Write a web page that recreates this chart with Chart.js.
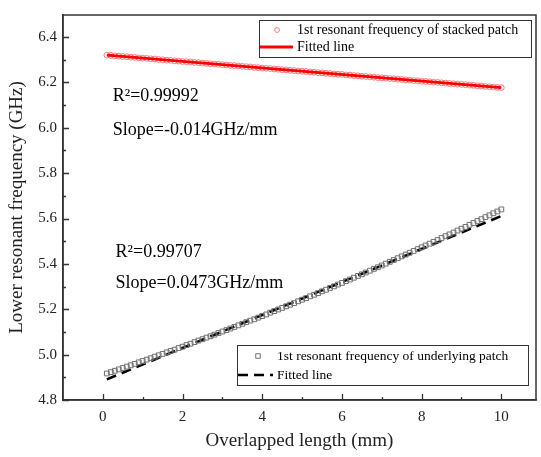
<!DOCTYPE html>
<html lang="en">
<head>
<meta charset="UTF-8">
<title>Lower resonant frequency vs overlapped length</title>
<script src="https://cdn.jsdelivr.net/npm/chart.js"></script>
<style>
    body {
        margin: 0;
        background: #fff;
    }
    #wrap {
        width: 541px;
        height: 457px;
    }
</style>
</head>
<body>
<div id="wrap"><canvas id="freqChart" width="541" height="457"></canvas></div>
<script>
// overlapped length (mm), shared by both measured series
const overlapLength = [
    0.1, 0.2, 0.3, 0.4, 0.5, 0.6, 0.7, 0.8, 0.9, 1.0,
    1.1, 1.2, 1.3, 1.4, 1.5, 1.6, 1.7, 1.8, 1.9, 2.0,
    2.1, 2.2, 2.3, 2.4, 2.5, 2.6, 2.7, 2.8, 2.9, 3.0,
    3.1, 3.2, 3.3, 3.4, 3.5, 3.6, 3.7, 3.8, 3.9, 4.0,
    4.1, 4.2, 4.3, 4.4, 4.5, 4.6, 4.7, 4.8, 4.9, 5.0,
    5.1, 5.2, 5.3, 5.4, 5.5, 5.6, 5.7, 5.8, 5.9, 6.0,
    6.1, 6.2, 6.3, 6.4, 6.5, 6.6, 6.7, 6.8, 6.9, 7.0,
    7.1, 7.2, 7.3, 7.4, 7.5, 7.6, 7.7, 7.8, 7.9, 8.0,
    8.1, 8.2, 8.3, 8.4, 8.5, 8.6, 8.7, 8.8, 8.9, 9.0,
    9.1, 9.2, 9.3, 9.4, 9.5, 9.6, 9.7, 9.8, 9.9, 10.0
];

// 1st resonant frequency of stacked patch (GHz)
const stackedFreq = [
    6.320, 6.319, 6.317, 6.316, 6.314, 6.313, 6.311, 6.310, 6.308, 6.307,
    6.306, 6.304, 6.303, 6.301, 6.300, 6.298, 6.297, 6.295, 6.294, 6.292,
    6.291, 6.290, 6.288, 6.287, 6.285, 6.284, 6.282, 6.281, 6.280, 6.278,
    6.277, 6.275, 6.274, 6.272, 6.271, 6.269, 6.268, 6.266, 6.265, 6.263,
    6.262, 6.261, 6.259, 6.258, 6.256, 6.255, 6.253, 6.252, 6.250, 6.249,
    6.248, 6.246, 6.245, 6.243, 6.242, 6.240, 6.239, 6.237, 6.236, 6.235,
    6.233, 6.232, 6.230, 6.229, 6.227, 6.226, 6.224, 6.223, 6.221, 6.220,
    6.219, 6.217, 6.216, 6.214, 6.213, 6.211, 6.210, 6.208, 6.207, 6.205,
    6.204, 6.203, 6.201, 6.200, 6.198, 6.197, 6.195, 6.194, 6.192, 6.191,
    6.190, 6.188, 6.187, 6.185, 6.184, 6.182, 6.181, 6.179, 6.178, 6.177
];

// 1st resonant frequency of underlying patch (GHz)
const underlyingFreq = [
    4.917, 4.923, 4.929, 4.935, 4.941, 4.947, 4.953, 4.959, 4.966, 4.972,
    4.978, 4.984, 4.991, 4.997, 5.003, 5.010, 5.016, 5.022, 5.029, 5.035,
    5.042, 5.048, 5.055, 5.062, 5.068, 5.075, 5.081, 5.088, 5.095, 5.102,
    5.108, 5.115, 5.122, 5.129, 5.136, 5.143, 5.150, 5.156, 5.163, 5.170,
    5.177, 5.185, 5.192, 5.199, 5.206, 5.213, 5.220, 5.227, 5.235, 5.242,
    5.249, 5.257, 5.264, 5.271, 5.279, 5.286, 5.294, 5.301, 5.309, 5.316,
    5.324, 5.331, 5.339, 5.347, 5.354, 5.362, 5.370, 5.378, 5.385, 5.393,
    5.401, 5.409, 5.417, 5.425, 5.433, 5.441, 5.449, 5.457, 5.465, 5.473,
    5.481, 5.489, 5.497, 5.505, 5.514, 5.522, 5.530, 5.538, 5.547, 5.555,
    5.563, 5.572, 5.580, 5.589, 5.597, 5.606, 5.614, 5.623, 5.631, 5.640
];

// fitted line end points
const stackedFitX = [0.1, 10.0];
const stackedFitY = [6.320, 6.177];
const underlyingFitX = [0.1, 10.0];
const underlyingFitY = [4.891, 5.611];

const xTicks = [0, 2, 4, 6, 8, 10];
const xMinorTicks = [1, 3, 5, 7, 9];
const yTicks = [4.8, 5.0, 5.2, 5.4, 5.6, 5.8, 6.0, 6.2, 6.4];
const yMinorTicks = [4.9, 5.1, 5.3, 5.5, 5.7, 5.9, 6.1, 6.3];

// fit notes, anchored in data units
const notes = [
    { x: 0.25, y: 6.119, text: 'R\u00b2=0.99992' },
    { x: 0.25, y: 5.969, text: 'Slope=-0.014GHz/mm' },
    { x: 0.32, y: 5.429, text: 'R\u00b2=0.99707' },
    { x: 0.32, y: 5.292, text: 'Slope=0.0473GHz/mm' }
];

const serif = '"Liberation Serif", "Times New Roman", serif';
const axisColor = '#333';

function pairs(xs, ys) {
    return xs.map((x, i) => ({ x: x, y: ys[i] }));
}

// box frame + inward tick marks (origin style)
const frameTicks = {
    id: 'frameTicks',
    afterDraw(chart) {
        const { ctx, chartArea: a, scales } = chart;
        const x = scales.x, y = scales.y;
        ctx.save();
        ctx.strokeStyle = axisColor;
        ctx.lineWidth = 1.5;
        ctx.strokeRect(a.left, a.top, a.right - a.left, a.bottom - a.top);

        ctx.lineWidth = 1.3;
        ctx.beginPath();
        xTicks.forEach(v => {
            const px = Math.round(x.getPixelForValue(v)) + 0.5;
            ctx.moveTo(px, a.bottom); ctx.lineTo(px, a.bottom - 6);
        });
        xMinorTicks.forEach(v => {
            const px = Math.round(x.getPixelForValue(v)) + 0.5;
            ctx.moveTo(px, a.bottom); ctx.lineTo(px, a.bottom - 3);
        });
        yTicks.forEach(v => {
            const py = Math.round(y.getPixelForValue(v)) + 0.5;
            ctx.moveTo(a.left, py); ctx.lineTo(a.left + 6, py);
        });
        yMinorTicks.forEach(v => {
            const py = Math.round(y.getPixelForValue(v)) + 0.5;
            ctx.moveTo(a.left, py); ctx.lineTo(a.left + 3, py);
        });
        ctx.stroke();
        ctx.restore();
    }
};

const fitNotes = {
    id: 'fitNotes',
    afterDatasetsDraw(chart) {
        const { ctx, scales } = chart;
        ctx.save();
        ctx.fillStyle = '#000';
        ctx.font = '18px ' + serif;
        ctx.textBaseline = 'alphabetic';
        notes.forEach(n => {
            ctx.fillText(n.text, scales.x.getPixelForValue(n.x), scales.y.getPixelForValue(n.y));
        });
        ctx.restore();
    }
};

// two separate boxed legends like the original figure
function drawMarker(ctx, ds, cx, cy, r) {
    ctx.save();
    ctx.strokeStyle = ds.borderColor;
    ctx.lineWidth = ds.borderWidth;
    ctx.beginPath();
    if (ds.pointStyle === 'rect') {
        const s = Math.SQRT1_2 * r;
        ctx.rect(cx - s, cy - s, 2 * s, 2 * s);
    } else {
        ctx.arc(cx, cy, r, 0, Math.PI * 2);
    }
    ctx.stroke();
    ctx.restore();
}

function drawLineSample(ctx, ds, x0, x1, cy) {
    ctx.save();
    ctx.strokeStyle = ds.borderColor;
    ctx.lineWidth = ds.borderWidth;
    ctx.setLineDash(ds.borderDash || []);
    ctx.beginPath();
    ctx.moveTo(x0, cy); ctx.lineTo(x1, cy);
    ctx.stroke();
    ctx.restore();
}

const boxedLegends = {
    id: 'boxedLegends',
    afterDraw(chart) {
        const { ctx, chartArea: a } = chart;
        const ds = chart.data.datasets;
        ctx.save();
        ctx.strokeStyle = axisColor;
        ctx.lineWidth = 1;
        ctx.textBaseline = 'middle';

        // top-right legend (stacked patch)
        let L = a.left + 196, T = a.top + 5, W = 272, H = 37;
        ctx.fillStyle = '#fff';
        ctx.fillRect(L, T, W, H);
        ctx.strokeRect(L + 0.5, T + 0.5, W, H);
        drawMarker(ctx, ds[1], L + 18, T + 10, 2.4);
        drawLineSample(ctx, ds[0], L + 1, L + 34, T + 27);
        ctx.fillStyle = '#000';
        ctx.font = '14px ' + serif;
        ctx.fillText(ds[1].label, L + 38, T + 10);
        ctx.fillText(ds[0].label, L + 38, T + 27);

        // bottom-right legend (underlying patch)
        L = a.left + 174; T = a.top + 330; W = 291; H = 40;
        ctx.fillStyle = '#fff';
        ctx.fillRect(L, T, W, H);
        ctx.strokeRect(L + 0.5, T + 0.5, W, H);
        drawMarker(ctx, ds[2], L + 21, T + 11, 3.2);
        drawLineSample(ctx, ds[3], L + 1, L + 36, T + 30);
        ctx.fillStyle = '#000';
        ctx.font = '13.5px ' + serif;
        ctx.fillText(ds[2].label, L + 40, T + 11);
        ctx.fillText(ds[3].label, L + 40, T + 30);
        ctx.restore();
    }
};

const ctx = document.getElementById('freqChart').getContext('2d');
const chart = new Chart(ctx, {
    type: 'scatter',
    data: {
        datasets: [
            {
                label: 'Fitted line',
                data: pairs(stackedFitX, stackedFitY),
                showLine: true,
                borderColor: '#ff0000',
                borderWidth: 2.8,
                pointRadius: 0,
                order: 0
            },
            {
                label: '1st resonant frequency of stacked patch',
                data: pairs(overlapLength, stackedFreq),
                pointStyle: 'circle',
                pointRadius: 2.9,
                borderColor: '#ff7a7a',
                backgroundColor: 'rgba(0,0,0,0)',
                borderWidth: 1,
                order: 1
            },
            {
                label: '1st resonant frequency of underlying patch',
                data: pairs(overlapLength, underlyingFreq),
                pointStyle: 'rect',
                pointRadius: 3.4,
                borderColor: '#707070',
                backgroundColor: 'rgba(0,0,0,0)',
                borderWidth: 1,
                order: 2
            },
            {
                label: 'Fitted line',
                data: pairs(underlyingFitX, underlyingFitY),
                showLine: true,
                borderColor: '#000',
                borderWidth: 2.6,
                borderDash: [10, 6],
                pointRadius: 0,
                order: 3
            }
        ]
    },
    options: {
        responsive: false,
        animation: false,
        layout: { padding: { left: 0, right: 2, top: 12, bottom: 0 } },
        plugins: {
            legend: { display: false },
            tooltip: { enabled: false }
        },
        scales: {
            x: {
                type: 'linear',
                min: -1.0,
                max: 10.87,
                afterFit: s => { s.height = 57; },
                afterBuildTicks: s => { s.ticks = xTicks.map(v => ({ value: v })); },
                grid: { display: false, drawTicks: false },
                border: { display: true, color: axisColor, width: 1.5 },
                ticks: {
                    padding: 8,
                    color: '#222',
                    font: { family: serif, size: 15 },
                    callback: v => String(v)
                },
                title: {
                    display: true,
                    text: 'Overlapped length (mm)',
                    color: '#222',
                    font: { family: serif, size: 19 },
                    padding: { top: 4, bottom: 5 }
                }
            },
            y: {
                type: 'linear',
                min: 4.8,
                max: 6.497,
                afterFit: s => { s.width = 63; },
                afterBuildTicks: s => { s.ticks = yTicks.map(v => ({ value: v })); },
                grid: { display: false, drawTicks: false },
                border: { display: true, color: axisColor, width: 1.5 },
                ticks: {
                    padding: 6,
                    color: '#222',
                    font: { family: serif, size: 15 },
                    callback: v => Number(v).toFixed(1)
                },
                title: {
                    display: true,
                    text: 'Lower resonant frequency (GHz)',
                    color: '#222',
                    font: { family: serif, size: 19 },
                    padding: { top: 6, bottom: 0 }
                }
            }
        }
    },
    plugins: [frameTicks, fitNotes, boxedLegends]
});
</script>
</body>
</html>
